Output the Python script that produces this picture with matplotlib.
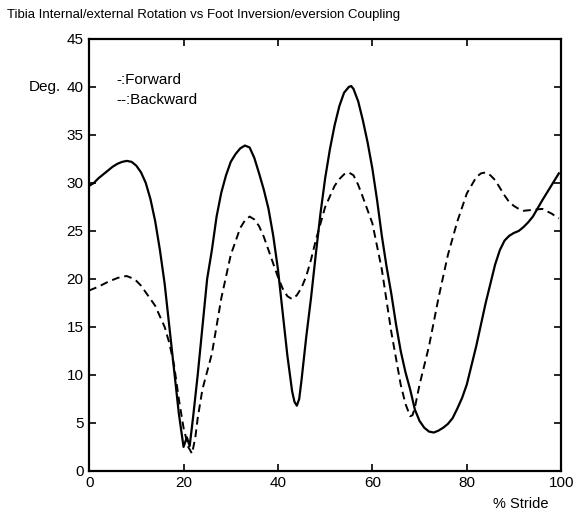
"""
Tibia internal/external rotation vs foot inversion/eversion coupling
"""

import matplotlib
matplotlib.use('Agg')
import matplotlib.pyplot as plt

# Daten (% Stride, Grad)
forward_x = [0, 1, 2, 3, 4, 5, 6, 7, 8, 9, 10, 11, 12, 13, 14, 15, 16, 17,
             18, 19, 20, 20.7, 21.3, 22, 23, 24, 25, 26, 27, 28, 29, 30, 31,
             32, 33, 34, 35, 36, 37, 38, 39, 40, 41, 42, 43, 43.5, 44, 44.5,
             45, 46, 47, 48, 49, 50, 51, 52, 53, 54, 55, 55.5, 56, 57, 58, 59,
             60, 61, 62, 63, 64, 65, 66, 67, 68, 69, 70, 71, 72, 73, 74, 75,
             76, 77, 78, 79, 80, 82, 84, 86, 87, 88, 89, 90, 91, 92, 93, 94,
             96, 98, 99.5]
forward_y = [29.7, 30.0, 30.5, 30.9, 31.3, 31.7, 32.0, 32.2, 32.3, 32.2, 31.8,
             31.1, 30.0, 28.3, 26.0, 23.0, 19.5, 15.0, 10.5, 6.0, 2.5, 3.5,
             2.6, 5.5, 10.0, 15.0, 20.0, 23.0, 26.5, 29.0, 30.8, 32.2, 33.0,
             33.6, 33.9, 33.7, 32.6, 31.0, 29.3, 27.3, 24.5, 21.0, 16.5, 12.0,
             8.3, 7.2, 6.8, 7.5, 9.5, 14.0, 18.0, 22.5, 26.8, 30.5, 33.5, 36.0,
             38.0, 39.4, 40.0, 40.1, 39.8, 38.5, 36.5, 34.2, 31.5, 28.2, 24.5,
             21.3, 18.5, 15.3, 12.5, 10.3, 8.5, 6.4, 5.2, 4.5, 4.1, 4.0, 4.2,
             4.5, 4.9, 5.5, 6.5, 7.6, 9.0, 13.0, 17.5, 21.5, 23.0, 24.0, 24.5,
             24.8, 25.0, 25.4, 25.9, 26.5, 28.2, 29.8, 31.0]

backward_x = [0, 2, 4, 6, 7, 8, 9, 10, 11, 12, 14, 16, 17, 18, 19, 20, 21,
              21.8, 22.5, 23, 24, 26, 28, 30, 32, 33, 34, 35, 36, 37, 38, 40,
              41, 42, 43, 44, 45, 46, 47, 48, 50, 52, 53, 54, 55, 56, 57, 58,
              60, 62, 64, 66, 67, 68, 68.5, 69, 70, 71, 72, 74, 76, 78, 80, 82,
              83, 84, 85, 86, 87, 88, 89, 90, 91, 92, 94, 96, 98, 99.5]
backward_y = [18.8, 19.2, 19.7, 20.1, 20.25, 20.3, 20.1, 19.8, 19.3, 18.6,
              17.2, 15.0, 13.3, 11.0, 7.5, 4.5, 2.5, 1.8, 3.5, 5.5, 8.5, 12.2,
              18.0, 22.5, 25.3, 26.1, 26.5, 26.2, 25.5, 24.4, 23.0, 20.2, 19.0,
              18.2, 17.9, 18.3, 19.1, 20.3, 22.0, 24.0, 27.5, 29.7, 30.4, 30.9,
              31.1, 30.8, 29.8, 28.5, 25.8, 21.0, 14.5, 9.0, 7.0, 5.7, 5.8, 6.6,
              9.0, 11.0, 13.0, 18.0, 22.5, 26.0, 28.9, 30.6, 31.0, 31.1, 30.8,
              30.3, 29.5, 28.7, 28.0, 27.6, 27.3, 27.1, 27.2, 27.3, 26.8, 26.3]

x_ticks = [0, 20, 40, 60, 80, 100]
y_ticks = [0, 5, 10, 15, 20, 25, 30, 35, 40, 45]

plt.rcParams['font.family'] = ['Liberation Sans', 'DejaVu Sans']

fig = plt.figure(figsize=(5.75, 5.13), dpi=100)
ax = fig.add_axes([0.155, 0.082, 0.821, 0.842])

# Kurven
ax.plot(forward_x, forward_y, color='black', linewidth=1.6, linestyle='-')
ax.plot(backward_x, backward_y, color='black', linewidth=1.4,
        linestyle=(0, (4, 2.5)))

ax.set_xlim(0, 100)
ax.set_ylim(0, 45)
ax.set_xticks(x_ticks)
ax.set_yticks(y_ticks)
ax.tick_params(direction='in', length=5, width=1.2, top=True, right=True,
               labelsize=11, pad=4)
for spine in ax.spines.values():
    spine.set_linewidth(1.6)

# Beschriftungen
fig.text(0.012, (513 - 15) / 513,
         'Tibia Internal/external Rotation vs Foot Inversion/eversion Coupling',
         fontsize=9.5, ha='left', va='center')
fig.text(0.05, (513 - 87) / 513, 'Deg.', fontsize=11, ha='left', va='center')
ax.text(5.7, 40.7, '-:Forward', fontsize=11, ha='left', va='center')
ax.text(5.7, 38.6, '--:Backward', fontsize=11, ha='left', va='center')
fig.text(521 / 575, (513 - 504) / 513, '% Stride', fontsize=10.5,
         ha='center', va='center')

fig.savefig('out.png', dpi=100)
